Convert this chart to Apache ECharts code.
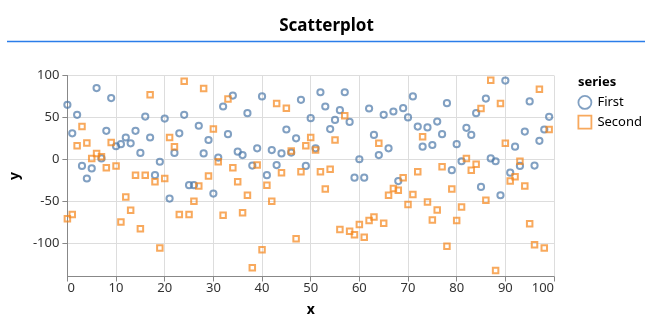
<!DOCTYPE html>
<html>
<head>
<meta charset="utf-8">
<title>Scatterplot</title>
<script src="https://cdn.jsdelivr.net/npm/echarts@6/dist/echarts.min.js"></script>
<style>
  html, body { margin: 0; padding: 0; background: #fff; }
  #chart { width: 653px; height: 329px; }
</style>
</head>
<body>
<div id="chart"></div>
<script>
// x positions shared by both series
const xValues = Array.from({ length: 100 }, (_, i) => i);

// series "First"
const firstY = [
  65, 31, 53, -8, -23, -11, 85, 1, 34, 73,
  15.5, 18, 26, 19, 34, 7.5, 51, 26, -19, -3,
  48.6, -47, 7.6, 31, 53, -31, -31, 40, 7, 23,
  -41, 2, 63, 30, 76, 9, 5, 55, -7.5, 13,
  75, -19, 11, -7, 7, 35.5, 8, 25, 71, -8,
  49, 13, 80, 63, 36, 47, 58.6, 80, 44.6, -22,
  0, -22, 60.6, 29, 5, 53, 13, 57, -26, 61,
  50, 75, 39, 15, 38, 17, 45, 30, 67, -13,
  18, -2.4, 37.5, 29, 55, -33, 72.5, 1, -2.4, -43,
  94, -16, 15, -8, 33, 69, -7.6, 22, 35.5, 50.6
];

// series "Second"
const secondY = [
  -71, -66, 16, 39, 19.5, 1, 7, 3, -10, 20,
  -8, -75, -45, -61, -19, -83, -19, 77, -27, -106,
  -23, 26, 15, -66, 93, -66, -50, -32, 84.5, -20,
  36, -3, -67, 72, -10, -27, -64, -43, -129.5, -7,
  -108, -31, -50, 66.5, -16, 61, 10, -95, -15, 16,
  26, 11, -15, -35.5, -12, 23, -84, 52, -86, -90,
  -78, -93, -73, -69, 19, -76.5, -43, -35, -37, -22,
  -54, -42, -15, 27, -51, -72.5, -60.5, -9, -104, -35.5,
  -73, -57, 1, -13, -6, 60.5, -49, 94.4, -132.7, 66.5,
  19, -26, -21, -2.4, -32, -77, -102, 83.7, -106, 35.5
];

const seriesNames = ['First', 'Second'];
const yTicks = [-100, -50, 0, 50, 100];

const FONT = '"Noto Sans", "Open Sans", sans-serif';
const BLUE = '#4c78a8';
const ORANGE = '#f58518';

const pairs = ys => xValues.map((x, i) => [x, ys[i]]);

const chart = echarts.init(document.getElementById('chart'), null, { renderer: 'canvas' });

chart.setOption({
  animation: false,
  textStyle: { fontFamily: FONT },
  title: {
    text: 'Scatterplot',
    left: 'center',
    top: 13,
    textStyle: { fontFamily: FONT, fontSize: 17, fontWeight: 'bold', color: '#000' }
  },
  graphic: [
    {
      type: 'line',
      shape: { x1: 7, y1: 41.5, x2: 645, y2: 41.5 },
      style: { stroke: '#2b7de9', lineWidth: 1.5 },
      silent: true
    },
    {
      type: 'text',
      left: 578,
      top: 76,
      style: { text: 'series', font: 'bold 13px ' + FONT, fill: '#000' },
      silent: true
    }
  ],
  legend: {
    orient: 'vertical',
    left: 577.5,
    top: 95,
    padding: 0,
    itemWidth: 13,
    itemHeight: 13,
    itemGap: 5,
    textStyle: { fontFamily: FONT, fontSize: 13, color: '#000', padding: [0, 0, 0, 1] },
    data: [
      { name: seriesNames[0], icon: 'circle',
        itemStyle: { color: 'rgba(0,0,0,0)', borderColor: BLUE, borderWidth: 1.8, opacity: 0.7 } },
      { name: seriesNames[1], icon: 'rect',
        itemStyle: { color: 'rgba(0,0,0,0)', borderColor: ORANGE, borderWidth: 1.8, opacity: 0.7 } }
    ]
  },
  grid: { left: 67, top: 75.5, width: 487, height: 201, containLabel: false },
  xAxis: {
    type: 'value',
    min: 0,
    max: 100,
    interval: 10,
    name: 'x',
    nameLocation: 'middle',
    nameGap: 27,
    nameTextStyle: { fontFamily: FONT, fontSize: 14, fontWeight: 'bold', color: '#000' },
    axisLine: { show: true, onZero: false, lineStyle: { color: '#888', width: 1 } },
    axisTick: { show: true, length: 5, lineStyle: { color: '#888' } },
    axisLabel: {
      margin: 5,
      fontFamily: FONT,
      fontSize: 13,
      color: '#333',
      alignMinLabel: 'left',
      alignMaxLabel: 'right'
    },
    splitLine: { show: true, lineStyle: { color: '#ddd', width: 1 } }
  },
  yAxis: {
    type: 'value',
    min: -140,
    max: 100,
    name: 'y',
    nameLocation: 'middle',
    nameGap: 37,
    nameRotate: 90,
    nameTextStyle: { fontFamily: FONT, fontSize: 14, fontWeight: 'bold', color: '#000' },
    axisLine: { show: true, onZero: false, lineStyle: { color: '#888', width: 1 } },
    axisTick: { show: true, length: 5, customValues: yTicks, lineStyle: { color: '#888' } },
    axisLabel: {
      margin: 8,
      fontFamily: FONT,
      fontSize: 13,
      color: '#333',
      customValues: yTicks
    },
    splitLine: { show: true, lineStyle: { color: '#ddd', width: 1 } }
  },
  series: [
    {
      name: seriesNames[0],
      type: 'scatter',
      symbol: 'circle',
      symbolSize: 6.2,
      data: pairs(firstY),
      itemStyle: { color: 'rgba(0,0,0,0)', borderColor: BLUE, borderWidth: 2, opacity: 0.7 },
      emphasis: { disabled: true }
    },
    {
      name: seriesNames[1],
      type: 'scatter',
      symbol: 'rect',
      symbolSize: 5.5,
      data: pairs(secondY),
      itemStyle: { color: 'rgba(0,0,0,0)', borderColor: ORANGE, borderWidth: 2, opacity: 0.7 },
      emphasis: { disabled: true }
    }
  ]
});
</script>
</body>
</html>
